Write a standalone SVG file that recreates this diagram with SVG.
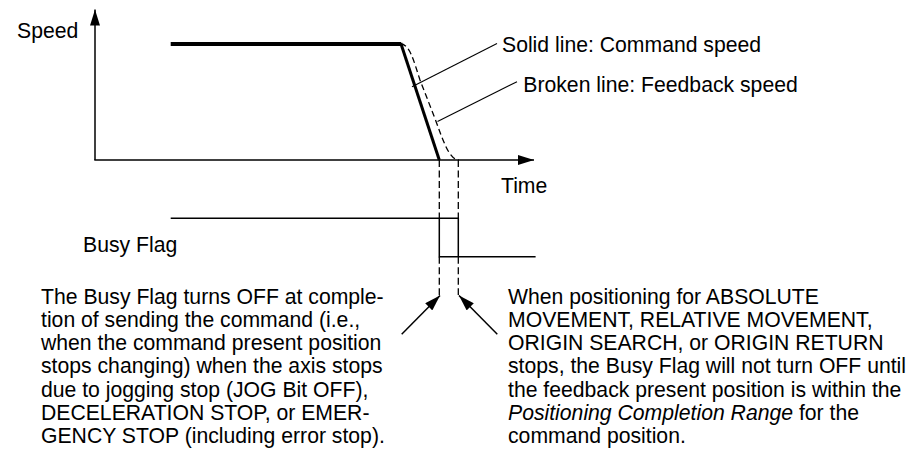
<svg xmlns="http://www.w3.org/2000/svg" width="922" height="453" viewBox="0 0 922 453">
<style>
text{font-family:"Liberation Sans",Arial,Helvetica,sans-serif;font-size:21.2px;fill:#000}
.ax{stroke:#000;stroke-width:1.5;fill:none}
.thin{stroke:#000;stroke-width:1.1;fill:none}
.dash{stroke:#000;stroke-width:1.3;fill:none;stroke-dasharray:7 3.5}
.sig{stroke:#000;stroke-width:1.5;fill:none}
</style>
<defs>
<marker id="ah" markerUnits="userSpaceOnUse" markerWidth="16" markerHeight="10" refX="16" refY="5" orient="auto" viewBox="0 0 16 10">
<path d="M0,0 L16,5 L0,10 z" fill="#000"/>
</marker>
</defs>
<rect width="922" height="453" fill="#fff"/>
<g id="axes">
<line class="ax" x1="95" y1="160" x2="95" y2="9.5" marker-end="url(#ah)"/>
<line class="ax" x1="94.3" y1="160" x2="534" y2="160" marker-end="url(#ah)"/>
<text id="lbl-speed" x="17" y="38">Speed</text>
<text id="lbl-time" x="501" y="193">Time</text>
</g>
<g id="command-speed">
<line x1="170.7" y1="44" x2="401" y2="44" stroke="#000" stroke-width="4"/>
<line x1="400.7" y1="43" x2="439.3" y2="160" stroke="#000" stroke-width="3"/>
</g>
<g id="feedback-speed">
<path class="dash" style="stroke-dasharray:6 3.5" d="M400.5,44 C410,44 414,62 420,80 L434,116 C443,140 449,160 459,160"/>
</g>
<g id="busy-flag">
<polyline class="sig" points="170.7,218.3 458.3,218.3 458.3,256.7"/>
<polyline class="sig" points="439.3,218.3 439.3,256.7 535.6,256.7"/>
<text id="lbl-busy" x="83" y="252">Busy Flag</text>
</g>
<g id="connectors">
<line class="dash" x1="439.3" y1="160" x2="439.3" y2="218.3"/>
<line class="dash" x1="458.3" y1="160" x2="458.3" y2="218.3"/>
<line class="dash" x1="439.3" y1="256.7" x2="439.3" y2="295"/>
<line class="dash" x1="458.3" y1="256.7" x2="458.3" y2="295"/>
<line class="thin" x1="497" y1="43.5" x2="412" y2="86.7"/>
<line class="thin" x1="517" y1="81.7" x2="437.5" y2="121.5"/>
<line class="ax" x1="401.7" y1="334.3" x2="440" y2="295.5" marker-end="url(#ah)"/>
<line class="ax" x1="497.3" y1="334.3" x2="459" y2="295.5" marker-end="url(#ah)"/>
</g>
<g id="legend">
<text id="lbl-solid" x="502" y="52.3">Solid line: Command speed</text>
<text id="lbl-broken" x="523.3" y="91.7">Broken line: Feedback speed</text>
</g>
<g id="note-left">
<text x="41" y="303.5">
<tspan x="41">The Busy Flag turns OFF at comple-</tspan>
<tspan x="41" dy="23.33">tion of sending the command (i.e.,</tspan>
<tspan x="41" dy="23.33">when the command present position</tspan>
<tspan x="41" dy="23.33">stops changing) when the axis stops</tspan>
<tspan x="41" dy="23.33">due to jogging stop (JOG Bit OFF),</tspan>
<tspan x="41" dy="23.33">DECELERATION STOP, or EMER-</tspan>
<tspan x="41" dy="23.33">GENCY STOP (including error stop).</tspan>
</text>
</g>
<g id="note-right">
<text x="508" y="303.5">
<tspan x="508">When positioning for ABSOLUTE</tspan>
<tspan x="508" dy="23.33">MOVEMENT, RELATIVE MOVEMENT,</tspan>
<tspan x="508" dy="23.33">ORIGIN SEARCH, or ORIGIN RETURN</tspan>
<tspan x="508" dy="23.33">stops, the Busy Flag will not turn OFF until</tspan>
<tspan x="508" dy="23.33">the feedback present position is within the</tspan>
<tspan x="508" dy="23.33"><tspan font-style="italic">Positioning Completion Range</tspan> for the</tspan>
<tspan x="508" dy="23.33">command position.</tspan>
</text>
</g>
</svg>
